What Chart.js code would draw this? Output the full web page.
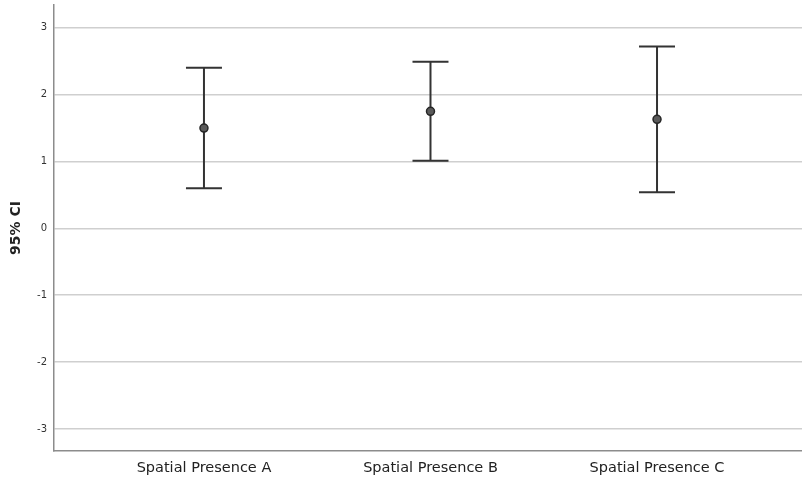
<!DOCTYPE html>
<html>
<head>
<meta charset="utf-8">
<script src="https://cdn.jsdelivr.net/npm/chart.js@4/dist/chart.umd.min.js"></script>
<style>
  html, body { margin: 0; padding: 0; background: #fff; }
  #wrap { width: 802px; height: 478px; position: relative; }
</style>
</head>
<body>
<div id="wrap"><canvas id="ciChart"></canvas></div>
<script>
'use strict';

// data
const categories = ['Spatial Presence A', 'Spatial Presence B', 'Spatial Presence C'];
const means = [1.50, 1.75, 1.63];
const lowerCI = [0.60, 1.01, 0.54];
const upperCI = [2.40, 2.49, 2.72];
const yTicks = [-3, -2, -1, 0, 1, 2, 3];

// whiskers + caps, positioned by the chart's own scales
const errorBars = {
  id: 'errorBars',
  beforeDatasetsDraw(chart) {
    const { ctx, scales: { x, y } } = chart;
    ctx.save();
    ctx.strokeStyle = '#333';
    ctx.lineWidth = 2;
    categories.forEach((c, i) => {
      const px = x.getPixelForValue(i);
      const top = y.getPixelForValue(upperCI[i]);
      const bot = y.getPixelForValue(lowerCI[i]);
      const cap = 18;
      ctx.beginPath();
      ctx.moveTo(px, top); ctx.lineTo(px, bot);
      ctx.moveTo(px - cap, top); ctx.lineTo(px + cap, top);
      ctx.moveTo(px - cap, bot); ctx.lineTo(px + cap, bot);
      ctx.stroke();
    });
    ctx.restore();
  }
};

new Chart(document.getElementById('ciChart'), {
  type: 'scatter',
  data: {
    datasets: [{
      label: 'Mean',
      data: means.map((m, i) => ({ x: i, y: m })),
      pointRadius: 4,
      pointHoverRadius: 4,
      backgroundColor: '#5a5a5a',
      borderColor: '#262626',
      borderWidth: 1.5
    }]
  },
  options: {
    responsive: true, maintainAspectRatio: false, animation: false,
    layout: { autoPadding: false, padding: 0 },
    plugins: { legend: { display: false }, tooltip: { enabled: false } },
    scales: {
      x: {
        type: 'linear', min: -0.662, max: 2.64,
        afterBuildTicks: axis => { axis.ticks = categories.map((c, i) => ({ value: i })); },
        afterFit: axis => { axis.height = 27; },
        grid: { display: false, drawTicks: false },
        border: { display: true, color: '#8c8c8c', width: 1.5 },
        ticks: {
          padding: 9, maxRotation: 0, autoSkip: false,
          color: '#222', font: { family: 'DejaVu Sans', size: 14.5 },
          callback: v => categories[v]
        }
      },
      y: {
        min: -3.33, max: 3.34,
        afterBuildTicks: axis => { axis.ticks = yTicks.map(v => ({ value: v })); },
        afterFit: axis => { axis.width = 54; axis.paddingTop = 5; axis.paddingBottom = 0; },
        grid: { color: '#cfcfcf', lineWidth: 1.5, drawTicks: false },
        border: { display: true, color: '#8c8c8c', width: 1.5 },
        ticks: {
          padding: 7, color: '#333', font: { family: 'DejaVu Sans', size: 10 },
          callback: v => String(v)
        },
        title: {
          display: true, text: '95% CI', color: '#222',
          font: { family: 'DejaVu Sans', size: 14, weight: 'bold' },
          padding: { top: 8, bottom: 0 }
        }
      }
    }
  },
  plugins: [errorBars]
});
</script>
</body>
</html>
